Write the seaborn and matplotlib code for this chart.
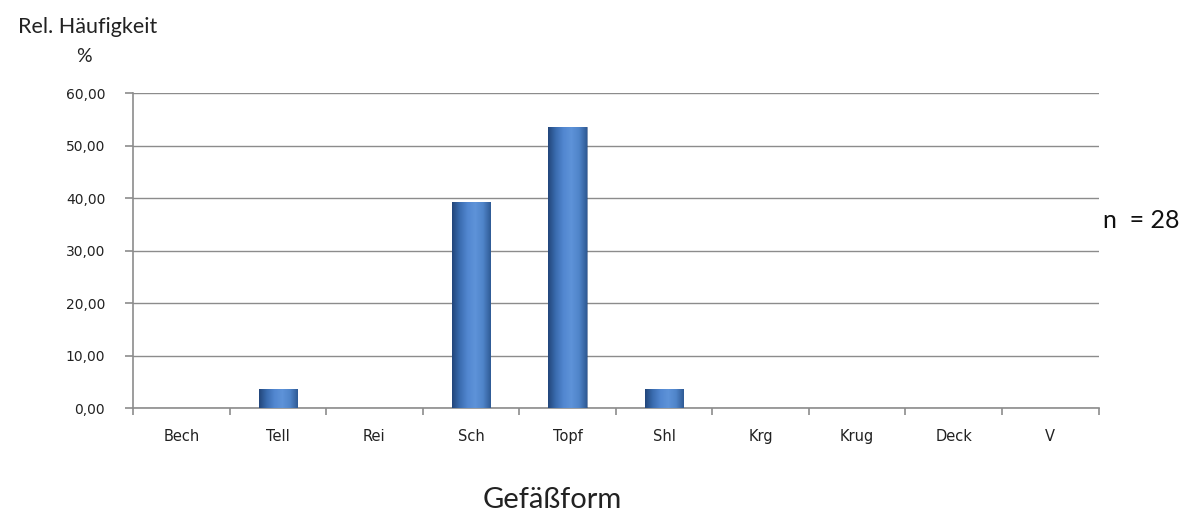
import numpy as np
import pandas as pd
import seaborn as sns
import matplotlib.pyplot as plt
from matplotlib.colors import LinearSegmentedColormap
from matplotlib.ticker import FuncFormatter, FixedLocator

categories = ["Bech", "Tell", "Rei", "Sch", "Topf", "Shl", "Krg", "Krug", "Deck", "V"]
values = [0.0, 3.57, 0.0, 39.29, 53.57, 3.57, 0.0, 0.0, 0.0, 0.0]

df = pd.DataFrame({"Gefäßform": categories, "Anteil": values})

sns.set_style("white")
plt.rcParams["font.family"] = ["DejaVu Sans"]
label_font = ["Lato", "DejaVu Sans"]

fig = plt.figure(figsize=(11.95, 5.12), dpi=100)
ax = fig.add_axes([0.1113, 0.203, 0.808, 0.615])

sns.barplot(data=df, x="Gefäßform", y="Anteil", color="#3f72b8",
            width=0.4, ax=ax, zorder=3)

# bar shading like the office chart: dark edges, light centre
cmap = LinearSegmentedColormap.from_list(
    "bar", ["#22457a", "#3a6cb0", "#5287d0", "#5e93d9", "#4f84c9", "#2f5a94"])
grad = np.linspace(0, 1, 256).reshape(1, -1)
for p in ax.patches:
    h = p.get_height()
    if h <= 0:
        p.set_visible(False)
        continue
    x0, w = p.get_x(), p.get_width()
    im = ax.imshow(grad, cmap=cmap, aspect="auto",
                   extent=[x0, x0 + w, 0, h], zorder=3)
    im.set_clip_path(p)
    p.set_facecolor("none")
    p.set_edgecolor("#22457a")
    p.set_linewidth(0.4)

ax.set_xlim(-0.5, 9.5)
ax.set_ylim(0, 60)
ax.set_yticks(np.arange(0, 61, 10))
ax.yaxis.set_major_formatter(FuncFormatter(lambda v, _: f"{v:.2f}".replace(".", ",")))
ax.yaxis.grid(True, color="#8c8c8c", linewidth=1.0, zorder=0)
ax.set_axisbelow(True)

for s in ["top", "right"]:
    ax.spines[s].set_visible(False)
for s in ["left", "bottom"]:
    ax.spines[s].set_color("#8c8c8c")
    ax.spines[s].set_linewidth(1.2)

ax.set_xticks(range(len(categories)))
ax.set_xticklabels(categories)
ax.xaxis.set_minor_locator(FixedLocator(np.arange(-0.5, 10, 1)))
ax.tick_params(axis="x", which="major", bottom=True, length=0, pad=15,
               labelsize=10.5, labelcolor="#222222")
ax.tick_params(axis="x", which="minor", bottom=True, length=5, color="#8c8c8c",
               width=1.2, direction="out")
ax.tick_params(axis="y", left=True, length=6, color="#8c8c8c", width=1.2,
               direction="out", labelsize=10, pad=14, labelcolor="#222222")

ax.set_xlabel("")
ax.set_ylabel("")

fig.text(0.073, 0.935, "Rel. Häufigkeit", fontsize=15.5, ha="center",
         color="#222222", family=label_font)
fig.text(0.07, 0.878, "%", fontsize=14, ha="center", color="#222222",
         family=label_font)
fig.text(0.462, 0.008, "Gefäßform", fontsize=21, ha="center", color="#222222",
         family=label_font)
fig.text(0.923, 0.555, "n  = 28", fontsize=18, ha="left", color="#111111",
         family=label_font)

fig.savefig("out.png", dpi=100)
